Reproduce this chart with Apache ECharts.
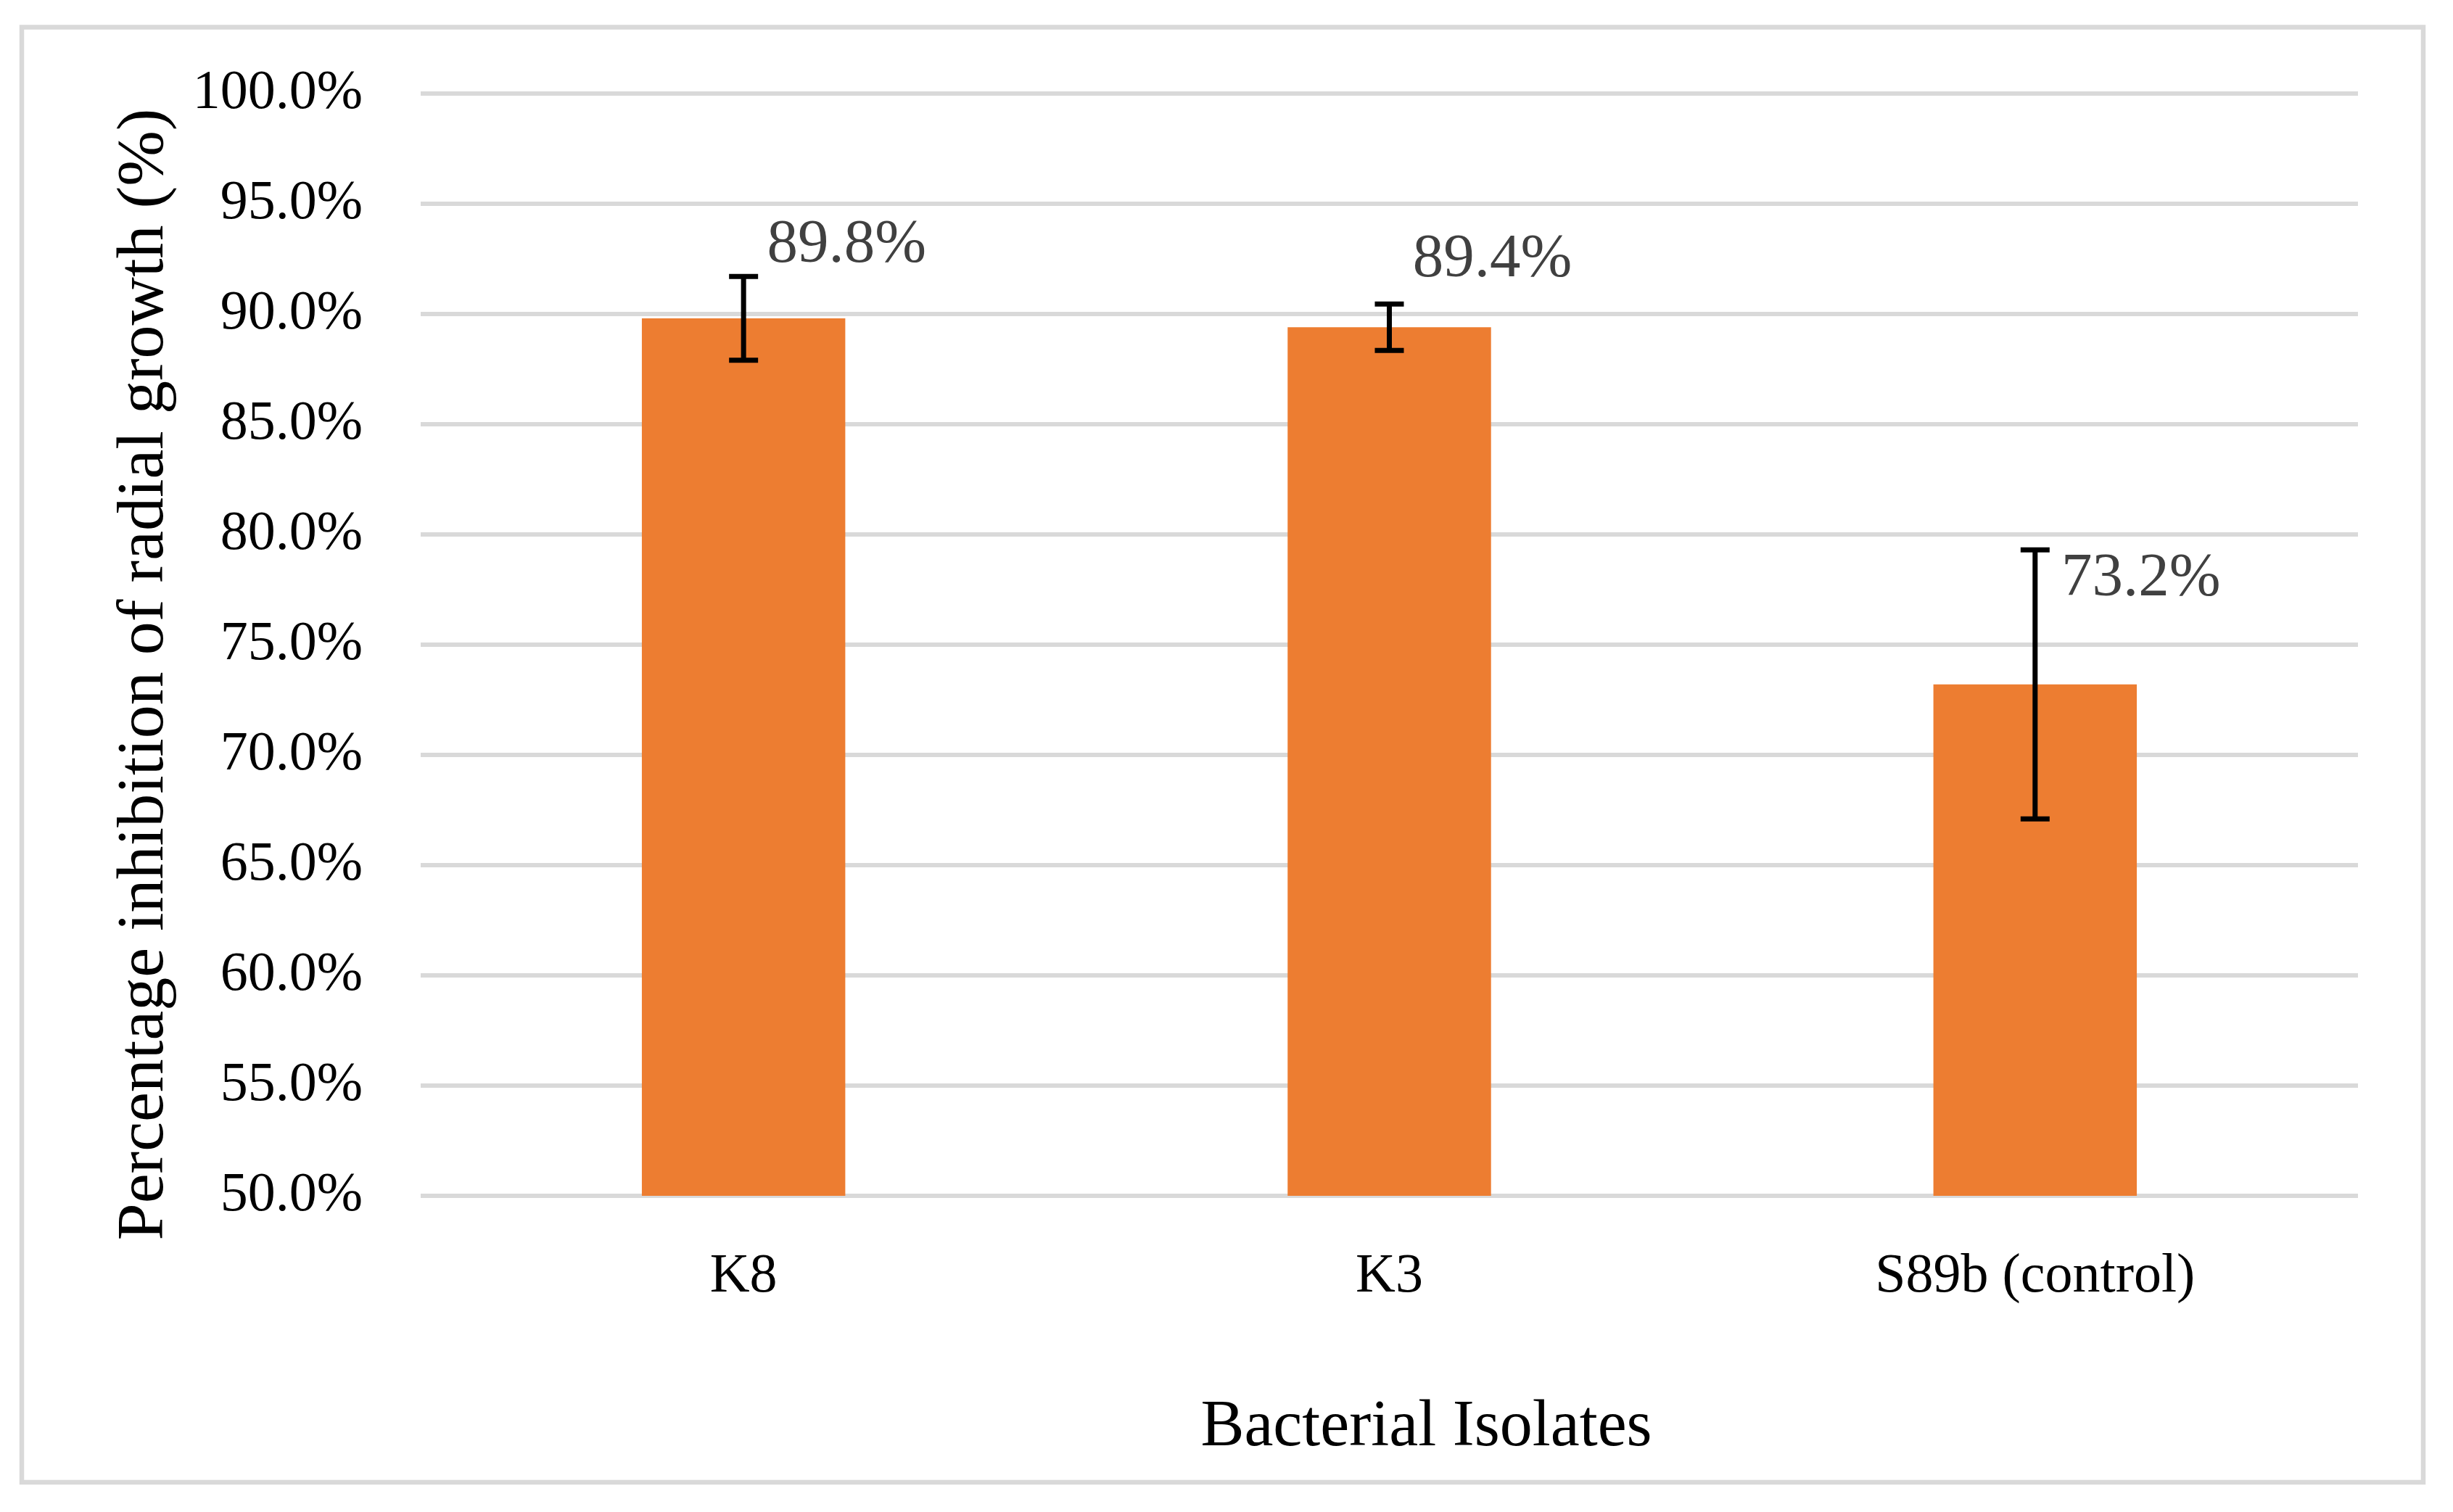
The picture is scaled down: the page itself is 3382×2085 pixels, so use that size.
<!DOCTYPE html>
<html>
<head>
<meta charset="utf-8">
<script src="https://cdn.jsdelivr.net/npm/echarts@6/dist/echarts.min.js"></script>
<style>
  html, body { margin: 0; padding: 0; background: #ffffff; }
  #chart { width: 3382px; height: 2085px; }
</style>
</head>
<body>
<div id="chart"></div>
<script>
// ---- data ----
const categories = ['K8', 'K3', 'S89b (control)'];
const values = [89.8, 89.4, 73.2];
const errors = [1.9, 1.05, 6.1];
const yMin = 50;
const yMax = 100;
const yStep = 5;
const yTitle = 'Percentage inhibition of radial growth (%)';
const xTitle = 'Bacterial Isolates';

// ---- layout helpers (label nudges, px) ----
const labelNudge = [[142, -53], [142, -45], [146, -98]];

const FONT = '"Liberation Serif", "Times New Roman", serif';
const chart = echarts.init(document.getElementById('chart'));

const option = {
  backgroundColor: '#ffffff',
  animation: false,
  grid: { left: 580, right: 131, top: 129, bottom: 436, containLabel: false },
  graphic: [{
    type: 'rect',
    shape: { x: 30, y: 37.5, width: 3311, height: 2006.5 },
    style: { fill: 'none', stroke: '#d9d9d9', lineWidth: 6.5 },
    silent: true,
    z: -10
  }],
  xAxis: {
    type: 'category',
    data: categories,
    axisLine: { show: false },
    axisTick: { show: false },
    axisLabel: { color: '#000', fontFamily: FONT, fontSize: 76, margin: 74 },
    name: xTitle,
    nameLocation: 'middle',
    nameGap: 275,
    nameTextStyle: { color: '#000', fontFamily: FONT, fontSize: 90, padding: [0, 0, 0, 102] }
  },
  yAxis: {
    type: 'value',
    min: yMin,
    max: yMax,
    interval: yStep,
    axisLine: { show: false },
    axisTick: { show: false },
    splitLine: { show: true, lineStyle: { color: '#d9d9d9', width: 6 } },
    axisLabel: {
      color: '#000', fontFamily: FONT, fontSize: 76, margin: 80,
      formatter: v => v.toFixed(1) + '%'
    },
    name: yTitle,
    nameLocation: 'middle',
    nameGap: 334,
    nameRotate: 90,
    nameTextStyle: { color: '#000', fontFamily: FONT, fontSize: 92, padding: [0, 82, 0, 0] }
  },
  series: [
    {
      type: 'bar',
      barWidth: '31.5%',
      itemStyle: { color: '#ed7d31' },
      data: values.map((v, i) => ({
        value: v,
        label: { offset: labelNudge[i] }
      })),
      label: {
        show: true,
        position: 'top',
        color: '#404040',
        fontFamily: FONT,
        fontSize: 85,
        formatter: p => p.value.toFixed(1) + '%'
      },
      z: 2
    },
    {
      type: 'custom',
      z: 3,
      data: categories.map((c, i) => [i, values[i] + errors[i], values[i] - errors[i]]),
      encode: { x: 0, y: [1, 2] },
      renderItem: function (params, api) {
        const x = api.value(0);
        const hi = api.coord([x, api.value(1)]);
        const lo = api.coord([x, api.value(2)]);
        const hw = 20;
        const st = { stroke: '#000', lineWidth: 7 };
        return {
          type: 'group',
          children: [
            { type: 'line', shape: { x1: hi[0], y1: hi[1], x2: lo[0], y2: lo[1] }, style: st },
            { type: 'line', shape: { x1: hi[0] - hw, y1: hi[1], x2: hi[0] + hw, y2: hi[1] }, style: st },
            { type: 'line', shape: { x1: lo[0] - hw, y1: lo[1], x2: lo[0] + hw, y2: lo[1] }, style: st }
          ]
        };
      }
    }
  ]
};
chart.setOption(option);
</script>
</body>
</html>
